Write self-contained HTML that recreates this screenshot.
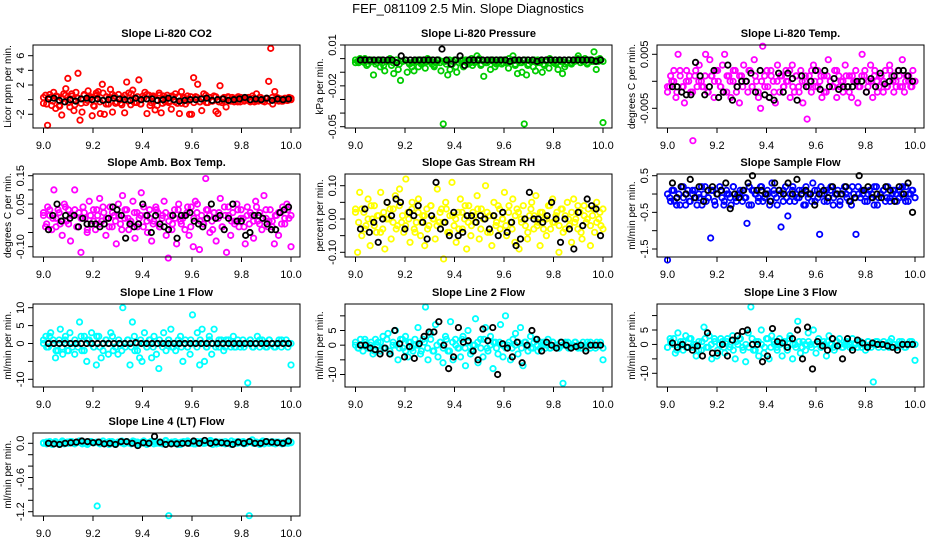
<!DOCTYPE html>
<html><head><meta charset="utf-8">
<style>
body{margin:0;background:#fff;}
svg{display:block;font-family:"Liberation Sans",Arial,sans-serif;}
</style></head>
<body>
<svg id="chart" width="936" height="540" viewBox="0 0 936 540" xmlns="http://www.w3.org/2000/svg">
<rect width="936" height="540" fill="#fff"/>
<text x="468" y="13" text-anchor="middle" font-size="13">FEF_081109  2.5 Min. Slope Diagnostics</text>
</svg>
<script>
// ---- data ----
const xTicks = [9.0, 9.2, 9.4, 9.6, 9.8, 10.0];
const xTickLabels = ["9.0", "9.2", "9.4", "9.6", "9.8", "10.0"];
const panelTitles = ["Slope Li-820 CO2","Slope Li-820 Pressure","Slope Li-820 Temp.","Slope Amb. Box Temp.","Slope Gas Stream RH","Slope Sample Flow","Slope Line 1 Flow","Slope Line 2 Flow","Slope Line 3 Flow","Slope Line 4 (LT) Flow"];
const yTitles = ["Licor ppm per min.","kPa per min.","degrees C per min.","degrees C per min.","percent per min.","ml/min per min.","ml/min per min.","ml/min per min.","ml/min per min.","ml/min per min."];
const pointColors = ["#ff0000","#00cc00","#ff00ff","#ff00ff","#ffff00","#0000ff","#00ffff","#00ffff","#00ffff","#00ffff"];
const yTickVals = [[-2,0,2,4,6],[0.01,0,-0.01,-0.02,-0.03,-0.04,-0.05],[0.005,0,-0.005],[0.15,0.10,0.05,0,-0.05,-0.10],[0.10,0.05,0,-0.05,-0.10],[0.5,0,-0.5,-1,-1.5],[10,5,0,-5,-10],[10,5,0,-5,-10],[10,5,0,-5,-10],[0,-0.2,-0.4,-0.6,-0.8,-1.0,-1.2]];
const yTickLabels = [["-2","","2","4","6"],["0.01","","","-0.02","","","-0.05"],["0.005","","-0.005"],["0.15","","0.05","","","-0.10"],["0.10","","0.00","","-0.10"],["0.5","","-0.5","","-1.5"],["10","5","0","","-10"],["","5","0","","-10"],["","5","0","","-10"],["0.0","","","-0.6","","","-1.2"]];
const yCalib = [[6,55.7,-2,114.3],[0.01,45,-0.05,126.7],[0.005,54.3,-0.005,108.3],[0.15,175.7,-0.10,246.7],[0.10,185.7,-0.10,252.3],[0.5,175.7,-1.5,249],[10,307.7,-10,379.3],[5,330.5,-10,374.5],[5,330,-10,373.3],[0,443.3,-1.2,511.7]];
const unitScale = [1,0.001,0.001,0.01,0.01,1,1,1,1,1];

const co2Values = [-0.5,0.6,-3.5,0.3,-0.8,1,-1.2,0.4,-0.9,-2.1,0.8,1.5,2.9,-1,0.5,-1.5,1,3.6,-2.8,-1.7,0.6,-0.4,1.2,0.2,-2.2,-0.9,0.9,1.1,-1.9,2.1,-2,0.4,-0.6,1.4,-1.7,0.5,-0.3,0.7,-0.5,0.3,-1.8,2.4,0.9,-0.7,1.3,0.2,-0.4,2.7,-0.6,0.5,1.0,-1.9,0.6,-0.4,0.3,-1.4,-0.8,0.9,-1.8,0.5,-0.3,0.6,-0.2,-1.3,0.4,0.8,-0.5,-1.9,1.1,0.3,-0.6,0.5,-2,-2,3,0.4,2.1,-0.3,-1.5,0.8,0.6,-0.4,0.3,-0.2,0.5,-1.6,-1.9,1.9,-0.4,0.3,-1,0.4,-0.2,0.3,-0.3,0.2,0.4,-0.3,0.2,-0.2,0.1,0.3,-0.2,0.5,-0.3,0.8,-0.2,0.3,0.1,-0.3,0.2,2.5,7,-0.6,1.1,0.3,-0.2,0.1,-0.2,0.2,-0.1,0.3,0];
const co2Band = [0.3,-0.6,0.7,-0.2,0.5,-0.8,0.1,0.6,-0.4,0.8,-0.7,0.2,-0.5,0.7,-0.1,0.4,-0.8,0.6,-0.3,0.9,-0.6,0.3,0.7,-0.5,0.1,-0.7,0.6,-0.2,0.8,-0.4,0.4,-0.6,0.2,0.7,-0.8,0.5,-0.1,0.6,-0.5,0.3,-0.4,0.5,-0.3,0.4,-0.5,0.2,-0.2,0.4,-0.4,0.3,-0.3,0.2,-0.4,0.3,-0.2,0.4,-0.3,0.1,-0.3,0.3,-0.2,0.2,-0.3,0.3,-0.1,0.2,-0.3,0.2,-0.2,0.3,-0.2,0.1,-0.2,0.3,-0.1,0.2,-0.2,0.1,-0.1,0.2];
const co2Black = [0.1,0.2,-0.1,-0.3,0,-0.2,0.1,0.2,0,0.1,-0.1,0,0.2,0.1,0,-0.1,0.2,0,0.1,0.1,-0.1,0,0.2,0,-0.2,-0.1,0,0,0.1,0.2,-0.1,0,0.1,-0.1,0,0.1,0.3,0,0.1,0,0.2,-0.1,0.1,0,0.1];
const pressureMilli = [-3,-2,0,-1,-3,-5,-1,-2,-12,-4,-1,-6,-3,-9,-2,-1,-5,-11,-3,-8,-16,-2,-1,-10,-4,-3,-9,-2,-6,-1,-3,-7,-2,-1,-4,-6,-3,-1,-9,-48,-2,-12,-8,-4,-1,-10,-3,-2,-6,-1,-2,-3,-5,-2,2,0,-4,-13,-3,-2,-8,-1,-6,-3,-2,-4,-1,-3,-7,-2,2,-5,-11,-3,-10,-48,-12,-4,-2,-6,-9,-1,-3,-10,-5,-2,-7,-1,-3,-4,-8,-2,-11,-6,-3,-1,-4,-2,-1,2,-3,-2,0,-4,-1,-2,5,-8,-2,-1,-47];
const pressureBandMilli = [-1,-3,-2,0,-4,-1,-2,-3,-1,-5,-2,0,-3,-1,-4,-2,-1,-3,-6,-2,-1,-4,-3,0,-2,-5,-1,-3,-2,-4,-1,-2,-6,-3,-1,-2,-4,0,-3,-1,-5,-2,-3,-1,-2,-4,-1,-3,-2,0,-1,-4,-2,-3,-1,-5,-2,-1,-3,-2,-4,-1,0,-2,-3,-1,-2,-4,-1,-3,-2,0,-1,-2,-3,-1,-2,-1,0,-2];
const pressureBlackMilli = [-1,-1,-1,-1,-1,-1,-1,-1,-3,2,-1,-1,-1,-1,-1,-1,-1,-1,7,-1,-4,-1,2,-5,-1,-1,-1,-1,-1,-1,-1,-1,-1,-2,-1,-1,-1,-1,-1,-2,-1,-1,-1,-1,-1,-1,-1,-1,-1,-1,-1,-1,-2,-1];
const tempMilli = [-2,-1,0,2,-3,5,1,-1,-4,2,0,-2,-11,1,-1,3,0,-1,5,-2,4,1,-3,2,0,-1,3,5,-2,1,-3,0,2,-1,-4,1,3,0,-2,2,-1,4,0,-3,-5,6.5,-1,2,-3,1,0,-4,3,-2,1,-1,2,0,-3,3,-2,1,-1,2,-4,0,-7,1,-2,3,-1,2,0,-3,1,-2,4,0,-1,2,-3,1,0,-2,3,-1,1,-3,0,2,-4,-1,5,1,-2,0,3,-3,2,0,-1,1,-2,2,-1,3,1,-2,0,2,-1,4,-2,1,0,-1,2,0];
const tempBandMilli = [-1,1,0,-2,2,-1,0,1,-2,2,0,-1,1,-2,1,0,2,-1,-2,1,0,2,-2,1,-1,0,2,-1,1,-2,0,1,-1,2,-2,0,1,-1,0,2,-1,1,-2,0,1,-1,2,0,-1,1,-2,1,0,-1,2,-1,0,1,-2,1,0,-1,1,2,-1,0,1,-2,1,0,-1,2,0,-1,1,-1,0,1,-1,0];
const tempBlackMilli = [-1,-1,-2,-2.5,-2.5,3.5,1,-2.5,-1,2,-3,-2,3,-3.5,-1,0,0,1.5,-2,2,-2.5,-3,-3.5,1.5,-2,1.5,0.5,-3.5,1,-1,0,2,-1.5,2,-1,0.5,-1.5,-1,-1,-1,0,0,-2,0.5,-1,1.5,-0.5,0,1,2,2,1,0];
const ambCenti = [2,-3,4,1,-4,10,0,3,-2,-6,5,-1,3,-8,1,10,-3,2,-12,4,0,-5,6,-2,3,-4,1,7,-1,2,-6,0,4,-3,1,-9,5,-2,8,0,3,-4,-1,6,-7,2,0,9,-3,1,-5,3,-8,-1,4,2,-3,0,6,-6,-14,1,-2,3,-9,5,-1,0,-4,2,-6,4,-10,6,5,-11,1,-2,14,3,-5,-1,2,-8,0,7,-3,4,-12,1,-6,2,-1,5,-3,3,0,-9,4,-2,1,-7,6,-1,2,-4,8,0,-3,3,-1,-9,1,-6,2,4,-2,5,0,-10];
const ambBandCenti = [1,-2,3,0,-3,2,-1,4,-2,1,3,-3,0,2,-4,1,-1,3,-2,4,0,-3,2,-1,1,-4,3,0,-2,2,-3,1,4,-1,0,-2,3,-3,1,2,-1,-4,0,3,-2,1,4,-3,0,2,-1,-2,3,1,-4,0,2,-3,1,4,-1,-2,3,0,-3,1,2,-1,4,-2,0,3,-1,-3,1,2,-2,0,3,1];
const ambBlackCenti = [-4,1,5,-1,1,0,1,-3,0,-2,-2,-2,-3,-2,0,4,3,1,-7,-2,-3,-2,5,1,-5,1,-2,-3,-4,1,-7,1,1,2,-1,-2,-3,0,5,0,1,-4,0,5,-1,-1,-6,-5,1,1,0,-2,-4,-4,2,3,4];
const rhCenti = [3,-10,8,-5,2,-2,6,-8,0,4,-4,1,8,-3,-9,5,0,-6,3,7,-2,9,-1,-4,12,2,-7,5,-3,-1,6,-5,1,-8,3,-2,4,0,-6,9,-1,3,-12,5,-4,1,11,-2,-7,2,6,-3,0,-9,4,-5,2,-1,7,-6,3,0,10,-4,1,-8,5,-2,4,-3,0,8,-5,2,-1,6,-7,3,-9,0,4,-2,-6,1,5,-3,7,-1,-8,2,0,-5,4,-3,6,-1,2,-10,3,-4,1,5,-2,-7,6,0,-3,2,-6,4,-1,3,-8,1,-4,5,0,-2,3];
const rhBandCenti = [2,-1,3,-3,0,4,-2,1,-4,2,0,3,-1,-3,4,1,-2,0,3,-4,2,-1,1,-3,4,0,-2,2,-1,3,-4,1,0,-3,2,4,-1,-2,1,3,-3,0,2,-4,1,-1,3,0,-2,4,-3,1,2,-1,0,-4,3,1,-2,2,-3,0,4,-1,1,-2,3,-3,0,2,-1,4,-4,1,0,-2,3,-1,2,-3];
const rhBlackCenti = [-3,3,-4,-1,-7,0,5,1,6,5,-3,2,1,4,-1,-6,1,11,-3,-1,-5,2,-5,-4,1,1,-1,1,0,-3,1,-5,2,-4,-1,-8,-6,0,8,0,0,-1,1,5,0,-7,0,-3,-9,2,-2,6,4,3,-5];
const sampleFlow = [-1.8,-0.1,0.1,-0.2,-0.3,0,0.2,-0.1,-0.3,0.1,-0.2,0,0.1,-0.3,-0.1,0.2,0,-0.2,-0.1,-1.2,0.1,-0.3,0,0.2,-0.1,-0.2,0.1,0,-0.3,0.2,-0.1,0,0.1,-0.2,-0.1,-0.8,0.2,-0.3,0.1,0,-0.1,0.2,-0.2,0,0.1,-0.3,0.3,0,-0.1,0.1,-0.9,-0.2,0.2,-0.6,0,0.1,-0.2,-0.1,0.1,0,-0.3,0.2,-0.1,0,0.3,-0.2,0.1,-1.1,0,-0.2,0.1,-0.1,0.2,-0.3,0,0.1,-0.2,0,0.2,-0.1,0.1,-0.3,0,-1.1,0.2,-0.1,0,0.1,-0.2,0.1,0,-0.3,0.2,-0.1,0,0.1,-0.2,0.2,-0.1,0,0.1,-0.2,0.1,0,-0.1,0.2,-0.2,0,0.1,-0.1];
const sampleBand = [0,-0.2,0.1,-0.1,-0.3,0.2,0,-0.2,0.1,-0.1,0,-0.3,0.2,-0.1,0.1,-0.2,0,0.1,-0.3,0,-0.1,0.2,-0.2,0,0.1,-0.1,-0.3,0.1,0,-0.2,0.2,-0.1,0,-0.2,0.1,-0.3,0,0.1,-0.1,-0.2,0.2,0,-0.1,0.1,-0.3,0,-0.2,0.1,-0.1,0.2,0,-0.2,0.1,-0.1,0,-0.3,0.1,0,-0.2,0.2,-0.1,0,0.1,-0.2,0,-0.1,0.2,-0.3,0,0.1,-0.1,-0.2,0.1,0,-0.1,0.2,-0.2,0,0.1,-0.1];
const sampleBlack = [0.3,-0.1,0.2,0,0.4,-0.1,0.2,-0.2,0.1,0.2,0,0.1,0.3,-0.4,0,-0.1,0.1,0.3,0.5,0.1,0.1,0,-0.2,0.3,0.1,0,0.3,0,0.4,0,0.1,0,-0.3,0,0.1,-0.1,0.2,0,0,0.2,-0.2,-0.1,0.5,0.1,0.2,-0.1,0,-0.1,0.2,0.1,-0.2,0.2,0,0.3,-0.5];
const line1Flow = [0,2,-1,3,1,-4,-2,4,-3,1,-2,3,-1,-3,0,6,-2,2,-5,1,3,-1,-6,2,-4,0,1,-3,3,-2,-1,-3,0,10,-1,1,-6,6,-2,0,-4,-5,3,-1,1,-4,2,-3,-7,0,3,-2,1,4,-1,-2,0,2,-5,1,-1,-3,8,0,3,-6,4,-5,-1,2,-3,4,0,-1,1,-2,1,0,-1,2,-1,0,-1,1,0,-11,1,-1,0,2,-1,1,0,-1,1,0,-1,0,1,-1,0,1,0,-6];
const line1Band = [1,-1,2,0,-2,1,-1,2,-2,0,1,-1,2,-2,1,0,-1,2,-1,-2,1,0,2,-1,1,-2,0,1,-1,2,-2,1,0,-1,1,-1,0,1,-1,0,1,-1,0,1,-1,0,-1,1,0,-1,1,0,-1,1,0,-1,1,0,-1,1,0,-1,1,0,-1,0,1,-1,0,1,0,-1,1,0,-1,0,1,0,-1,0];
const line1Black = [0,0,0,0,0,0,0,0,0,0,0,0,0,0,0,0,0.2,0,0,0,0,0,0,0,0,0,0,0,0,0,0,0,0,0,0,0,0,0,0,0,0,0,0,0,0];
const line2Flow = [0,-1,2,-2,1,-1,0,-3,2,1,-2,3,-1,4,-3,0,5,-5,2,-1,3,-4,1,-2,0,6,-3,2,13,-5,4,-2,7,-4,1,-6,3,-2,8,-5,2,-1,-4,3,-7,5,-3,0,9,-6,2,-4,6,-2,3,-8,1,-3,7,-4,10,0,-5,2,4,-3,6,-7,1,-2,3,-1,2,-2,1,0,-1,2,-1,1,0,-1,1,-13,0,1,-1,0,1,-1,0,1,-1,0,1,0,-1,0,1,-5];
const line2Band = [1,-1,0,2,-1,1,-2,0,1,-1,2,-2,1,0,-1,2,-2,1,-1,2,0,-2,1,-1,2,-2,0,1,-1,2,-2,1,0,-1,2,-1,1,-2,0,1,-1,2,-1,0,1,-1,1,0,-1,1,-1,0,1,-1,1,0,-1,1,0,-1,1,0,-1,1,0,-1,0,1,-1,0,1,0,-1,0,1,-1,0,1,0,-1];
const line2Black = [0,0,-1,-1.5,-3,-1,-3,5,0.5,-4,-0.5,-4.5,0.5,3,4.5,4.5,8,0,-8,-4,6,1,1.5,-2,-5,5.5,1.5,6,-10,0.5,-1,-4,1,-6,0,5,2,-2,1,0,-1,1,0,-1,-0.5,0,-2,0,0,0];
const line3Flow = [-1,2,0,-3,4,1,-2,3,-1,2,0,-4,1,-2,6,-1,3,-5,2,-4,0,1,-3,2,-1,3,-5,0,2,-2,-6,4,13,-2,1,-4,5,-3,2,-5,3,0,-1,2,-4,1,-2,3,-5,0,8,-3,1,-2,4,0,5,-3,2,-1,1,-4,3,0,-2,1,2,-1,0,1,-1,2,0,-1,1,0,-2,1,0,-13,1,-1,0,1,0,-1,2,0,-1,0,1,-1,0,1,0,-5.5];
const line3Band = [-1,1,2,-2,0,1,-1,2,-1,0,-2,1,2,-1,0,1,-2,2,-1,1,0,-2,1,2,-1,0,-1,2,-2,1,0,-1,2,-1,1,-2,0,1,-1,2,0,-1,1,-1,0,1,-1,0,1,-1,0,1,0,-1,1,0,-1,1,0,-1,0,1,-1,0,1,-1,0,1,0,-1,0,1,0,-1,1,0,-1,0,1,0];
const line3Black = [0.5,-1,0,-1,-2,-0.5,-4,4,-3,-3,0,-4,1.5,3,4.5,5,0,0,-6,-4,5.5,1,0.5,-1,2,5,-5,6,-8.5,1,-0.5,-2,2,-0.5,-5,2,-2,1.5,0.5,-1,0.5,0,0,-0.5,-1,-2,0,0,0];
const line4Flow = [0,0.02,0.01,-0.02,0.03,0,0.01,-0.01,0.02,0.03,0,0.01,0.04,-0.01,0.02,0,0.03,0.01,-1.1,0.02,0,0.01,-0.02,0.03,0,0.02,0.01,-0.01,0.03,0,0.04,0.01,-0.02,0.02,0,0.01,0.03,-0.01,0.02,0,0.01,0.05,-1.27,0.02,0,0.01,-0.02,0.03,0.01,0,0.02,-0.01,0.01,0.03,0,0.02,0.05,0.01,-0.01,0.02,0,0.03,0.01,-0.02,0.02,0,0.01,0.03,0,-1.27,0.06,0.01,0,0.02,-0.01,0.03,0.01,0,0.02,0.01,-0.01,0.02,0,0.01];
const line4Band = [0.01,-0.01,0.03,0,0.02,-0.02,0.04,0.01,0,0.03,-0.01,0.02,0.04,0,-0.02,0.03,0.01,0.02,-0.01,0.04,0,0.03,0.01,-0.02,0.02,0.04,0,0.01,-0.01,0.03,0.02,0,0.04,-0.02,0.01,0.03,0,0.02,-0.01,0.04,0.01,0,0.03,-0.02,0.02,0.01,0.04,0,-0.01,0.03,0.02,0,0.01,0.04,-0.02,0.03,0,0.02,-0.01,0.01,0.04,0,0.03,0.02,-0.01,0.01,0.03,0,0.02,-0.02,0.04,0.01,0,0.03,-0.01,0.02,0.01,0,0.03,0.02];
const line4Black = [0,-0.01,-0.02,0,0.01,0.02,0.04,0.03,0.01,0.02,-0.01,0,-0.02,0.03,0.03,0,-0.04,0.01,0,0.12,0.02,-0.02,-0.01,-0.01,0,0,0.04,0,0.05,0,0.02,0.01,0,-0.02,0.02,0,0.03,0,0,0.03,0.02,0.01,0,0.04];

const colorSeries = [co2Values,pressureMilli,tempMilli,ambCenti,rhCenti,sampleFlow,line1Flow,line2Flow,line3Flow,line4Flow];
const bandSeries = [co2Band,pressureBandMilli,tempBandMilli,ambBandCenti,rhBandCenti,sampleBand,line1Band,line2Band,line3Band,line4Band];
const blackSeries = [co2Black,pressureBlackMilli,tempBlackMilli,ambBlackCenti,rhBlackCenti,sampleBlack,line1Black,line2Black,line3Black,line4Black];

// ---- layout ----
const NS = "http://www.w3.org/2000/svg";
const svg = document.getElementById("chart");
const colLeft = [33, 345, 657];
const rowTop = [45, 174, 304, 433];
const boxW = 267, boxH = 83;
function mk(tag, attrs, parent){const e=document.createElementNS(NS,tag);for(const k in attrs)e.setAttribute(k,attrs[k]);(parent||svg).appendChild(e);return e;}

for (let p = 0; p < 10; p++) {
  const col = p % 3, row = Math.floor(p / 3);
  const L = colLeft[col], T = rowTop[row];
  const g = mk("g", {});
  
  
  const xs = v => L + 10.5 + (v - 9) * 247.5;
  const c = yCalib[p];
  const ys = v => c[1] + (v - c[0]) * (c[3] - c[1]) / (c[2] - c[0]);
  const s = unitScale[p];
  const t = mk("text", {x: L + boxW / 2, y: T - 8, "text-anchor": "middle", "font-size": "11", "font-weight": "bold"}, g);
  t.textContent = panelTitles[p];
  
  
  const cg = mk("g", {fill: "none", stroke: pointColors[p], "stroke-width": "1.8"}, g);
  
  
  const bandVals = bandSeries[p];
  bandVals.forEach((v, i) => {
    const x = 9 + i / (bandVals.length - 1);
    const pt = mk("circle", {cx: xs(x), cy: ys(v * s), r: 2.7}, cg);
    
    
  });
  const cs = colorSeries[p];
  cs.forEach((v, i) => {
    const x = 9 + i / (cs.length - 1);
    const pt = mk("circle", {cx: xs(x), cy: ys(v * s), r: 2.7}, cg);
    
    
  });
  const bs = blackSeries[p];
  const bg = mk("g", {fill: "none", stroke: "#000", "stroke-width": "1.8"}, g);
  
  
  bs.forEach((v, i) => {
    const x = 9.02 + 0.97 * i / (bs.length - 1);
    const pt = mk("circle", {cx: xs(x), cy: ys(v * s), r: 2.7}, bg);
    
    
  });
  const box = mk("rect", {x: L, y: T, width: boxW, height: boxH, fill: "none", stroke: "#000", "stroke-width": "1"}, g);
  
  
  const xa = mk("g", {}, g);
  
  
  xTicks.forEach((v, i) => {
    mk("line", {x1: xs(v), x2: xs(v), y1: T + boxH, y2: T + boxH + 5, stroke: "#000"}, xa);
    const lt = mk("text", {x: xs(v), y: T + boxH + 21, "text-anchor": "middle", "font-size": "11"}, xa);
    lt.textContent = xTickLabels[i];
    
    
  });
  const ya = mk("g", {}, g);
  
  
  yTickVals[p].forEach((v, i) => {
    const y = ys(v);
    mk("line", {x1: L - 5, x2: L, y1: y, y2: y, stroke: "#000"}, ya);
    if (yTickLabels[p][i]) {
      const lt = mk("text", {x: L - 9, y: y, "text-anchor": "middle", "font-size": "11", transform: `rotate(-90 ${L - 9} ${y})`}, ya);
      lt.textContent = yTickLabels[p][i];
      
      
    }
  });
  const yt = mk("text", {x: L - 22, y: T + boxH / 2, "text-anchor": "middle", "font-size": "10", transform: `rotate(-90 ${L - 22} ${T + boxH / 2})`}, g);
  yt.textContent = yTitles[p];
  
  
}
</script>
</body></html>
